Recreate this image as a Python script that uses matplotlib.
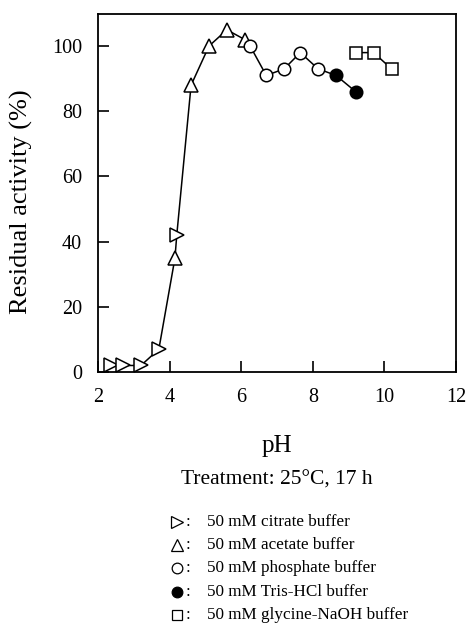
import numpy as np
from matplotlib import pyplot as plt
from matplotlib.lines import Line2D

plt.rcParams['font.family'] = ['Liberation Serif', 'DejaVu Serif']

# pH / residual activity for each buffer
citrate_ph = [2.35, 2.7, 3.2, 3.7, 4.2]
citrate_act = [2, 2, 2, 7, 42]
acetate_ph = [4.15, 4.6, 5.1, 5.6, 6.1]
acetate_act = [35, 88, 100, 105, 102]
phosphate_ph = [6.25, 6.7, 7.2, 7.65, 8.15]
phosphate_act = [100, 91, 93, 98, 93]
tris_ph = [8.65, 9.2]
tris_act = [91, 86]
glycine_ph = [9.2, 9.7, 10.2]
glycine_act = [98, 98, 93]

legend_labels = ['50 mM citrate buffer', '50 mM acetate buffer',
                 '50 mM phosphate buffer', '50 mM Tris-HCl buffer',
                 '50 mM glycine-NaOH buffer']

W, H = 470, 626
fig = plt.figure(figsize=(W / 100, H / 100), dpi=100)
ax = fig.add_axes([98 / W, 1 - 372 / H, 358 / W, 358.5 / H])

# one connected curve through citrate .. Tris, glycine on its own
all_ph = np.array(citrate_ph + acetate_ph + phosphate_ph + tris_ph)
all_act = np.array(citrate_act + acetate_act + phosphate_act + tris_act)
order = np.argsort(all_ph, kind='stable')
ax.plot(all_ph[order], all_act[order], color='black', lw=1.1, zorder=1)
ax.plot(glycine_ph, glycine_act, color='black', lw=1.1, zorder=1)

styles = [('>', 'white', 9.5), ('^', 'white', 9.5), ('o', 'white', 9),
          ('o', 'black', 9), ('s', 'white', 8.5)]
series = [(citrate_ph, citrate_act), (acetate_ph, acetate_act),
          (phosphate_ph, phosphate_act), (tris_ph, tris_act),
          (glycine_ph, glycine_act)]
for (x, y), (m, fc, ms) in zip(series, styles):
    ax.plot(x, y, ls='none', marker=m, ms=ms, mfc=fc, mec='black',
            mew=1.1, zorder=3)

ax.set_xlim(2, 12)
ax.set_ylim(0, 110)
ax.set_xticks([2, 4, 6, 8, 10, 12])
ax.set_yticks([0, 20, 40, 60, 80, 100])
ax.tick_params(direction='in', length=8, width=1.2, labelsize=14.5)
ax.tick_params(axis='x', pad=11.5)
ax.tick_params(axis='y', pad=11.5)
for s in ax.spines.values():
    s.set_linewidth(1.3)

ax.set_xlabel('pH', fontsize=18)
ax.xaxis.set_label_coords(0.5, -0.176)
ax.set_ylabel('Residual activity (%)', fontsize=19)
ax.yaxis.set_label_coords(-0.182, 0.476)

fig.text(277 / W, 1 - 480 / H, 'Treatment: 25\u00b0C, 17 h', fontsize=15.5,
         ha='center', va='center')

rows_y = [522, 545, 568, 592, 615]
for (m, fc, ms), label, yp in zip(styles, legend_labels, rows_y):
    yf = 1 - yp / H
    fig.add_artist(Line2D([177 / W], [yf], marker=m, ms=ms * 0.85, mfc=fc,
                          mec='black', mew=0.9, ls='none',
                          transform=fig.transFigure))
    fig.text(186 / W, yf, ':', fontsize=12.3, ha='left', va='center')
    fig.text(207 / W, yf, label, fontsize=12.3, ha='left', va='center')

plt.savefig('out.png')
